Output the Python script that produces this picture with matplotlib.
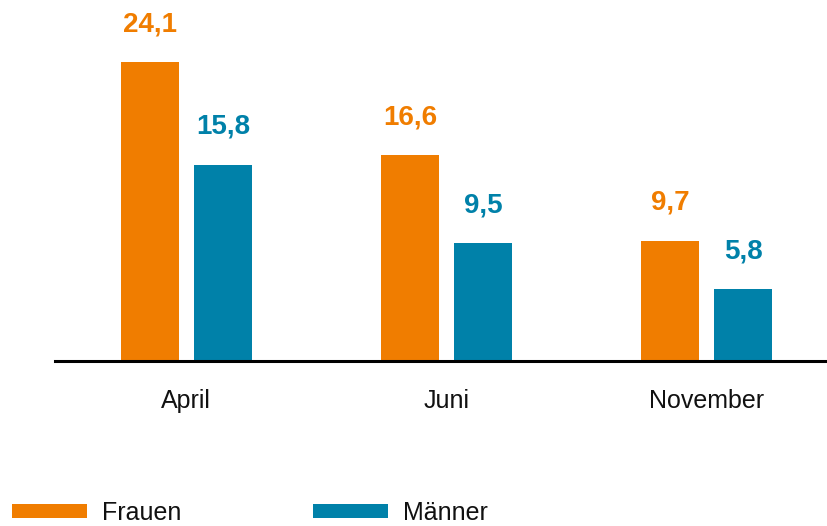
import matplotlib.pyplot as plt
import numpy as np

months = ['April', 'Juni', 'November']
frauen = [24.1, 16.6, 9.7]
maenner = [15.8, 9.5, 5.8]
series_names = ['Frauen', 'Männer']

orange = '#F07D00'
blue = '#0081A9'

plt.rcParams['font.family'] = ['Liberation Sans Narrow', 'Liberation Sans', 'DejaVu Sans']

fig = plt.figure(figsize=(8.27, 5.26), dpi=100)
ax = fig.add_axes([55 / 827, 165 / 526, 772 / 827, 361 / 526])

x = np.arange(len(months))
width = 0.223
b1 = ax.bar(x - 0.138, frauen, width, color=orange, label=series_names[0])
b2 = ax.bar(x + 0.142, maenner, width, color=blue, label=series_names[1])

for bars, vals, col in [(b1, frauen, orange), (b2, maenner, blue)]:
    for rect, v in zip(bars, vals):
        ax.annotate(f'{v:.1f}'.replace('.', ','),
                    (rect.get_x() + rect.get_width() / 2, rect.get_height()),
                    xytext=(0, 18), textcoords='offset points',
                    ha='center', va='bottom', fontsize=20, fontweight='bold', color=col)

ax.set_xlim(-0.504, 2.465)
ax.set_ylim(0, 29.1)
ax.set_xticks(x)
ax.set_xticklabels(months, fontsize=18, color='#111111')
ax.tick_params(axis='x', length=0, pad=20)
ax.set_yticks([])
for s in ['left', 'right', 'top']:
    ax.spines[s].set_visible(False)
ax.spines['bottom'].set_linewidth(2.2)
ax.spines['bottom'].set_color('black')

fig.legend(handles=[b1, b2], loc='lower left', bbox_to_anchor=(-11 / 827, -21 / 526),
           ncol=2, frameon=False, fontsize=18, handlelength=3.0, handleheight=0.5,
           handletextpad=0.6, columnspacing=5.3, labelcolor='#111111')

fig.savefig('out.png', dpi=100)
